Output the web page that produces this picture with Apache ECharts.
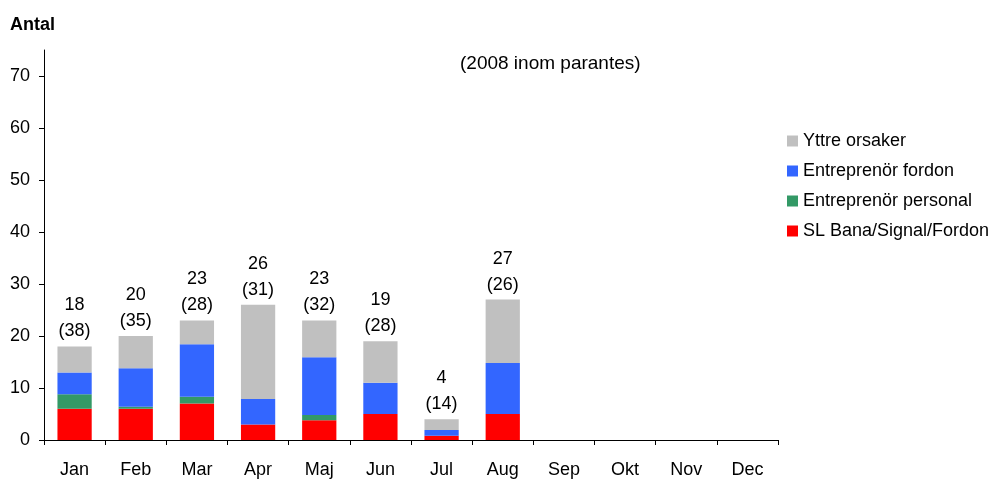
<!DOCTYPE html>
<html><head><meta charset="utf-8">
<script src="https://cdn.jsdelivr.net/npm/echarts@6/dist/echarts.min.js"></script>
<style>html,body{margin:0;padding:0;background:#fff}#c{width:1007px;height:479px}</style>
</head><body><div id="c"></div>
<script>
const months = ['Jan','Feb','Mar','Apr','Maj','Jun','Jul','Aug','Sep','Okt','Nov','Dec'];
const slBana = [6, 6, 7, 3, 3.8, 5, 0.8, 5, null, null, null, null];
const entPersonal = [2.8, 0.4, 1.3, 0, 1, 0, 0, 0, null, null, null, null];
const entFordon = [4.2, 7.4, 10.1, 4.9, 11.1, 6, 1.1, 9.8, null, null, null, null];
const yttre = [5, 6.2, 4.6, 18.1, 7.1, 8, 2.1, 12.2, null, null, null, null];
const totals2009 = [18, 20, 23, 26, 23, 19, 4, 27];
const totals2008 = [38, 35, 28, 31, 32, 28, 14, 26];
const yTicks = [0, 10, 20, 30, 40, 50, 60, 70];

const font = 'Liberation Sans, Arial, sans-serif';
const fs = 18;
const chart = echarts.init(document.getElementById('c'));
const mk = (name, data, color) => ({
  name, type: 'bar', stack: 's', data, barWidth: '56%',
  itemStyle: { color }, emphasis: { disabled: true }
});
const topSeries = mk('Yttre orsaker', yttre, '#C0C0C0');
topSeries.label = {
  show: true, position: 'top', distance: 2,
  fontFamily: font, fontSize: fs, color: '#000', lineHeight: 26,
  formatter: p => p.dataIndex < totals2009.length ? totals2009[p.dataIndex] + '\n(' + totals2008[p.dataIndex] + ')' : ''
};
chart.setOption({
  animation: false,
  textStyle: { fontFamily: font },
  grid: { left: 44, right: 229, top: 50, bottom: 38, containLabel: false },
  title: [
    { text: 'Antal', left: 5, top: 11, textStyle: { fontFamily: font, fontSize: fs, fontWeight: 'bold', color: '#000' } },
    { text: '(2008 inom parantes)', left: 455, top: 49, textStyle: { fontFamily: font, fontSize: 19, fontWeight: 'normal', color: '#000' } }
  ],
  legend: {
    orient: 'vertical', left: 782, top: 127, itemGap: 12,
    itemWidth: 11, itemHeight: 11, icon: 'rect',
    data: ['Yttre orsaker', 'Entreprenör fordon', 'Entreprenör personal', 'SL Bana/Signal/Fordon'],
    textStyle: { fontFamily: font, fontSize: fs, color: '#000' }
  },
  xAxis: {
    type: 'category', data: months, boundaryGap: true,
    axisLine: { lineStyle: { color: '#000', width: 1 } },
    axisTick: { show: true, alignWithLabel: false, length: 5, lineStyle: { color: '#000' } },
    axisLabel: { fontFamily: font, fontSize: fs, color: '#000', margin: 21 }
  },
  yAxis: {
    type: 'value', min: 0, max: 75, interval: 10,
    splitLine: { show: false },
    axisLine: { show: true, lineStyle: { color: '#000', width: 1 } },
    axisTick: { show: true, length: 5, lineStyle: { color: '#000' }, customValues: yTicks },
    axisLabel: { fontFamily: font, fontSize: fs, color: '#000', margin: 14, customValues: yTicks }
  },
  series: [
    mk('SL Bana/Signal/Fordon', slBana, '#FF0000'),
    mk('Entreprenör personal', entPersonal, '#339966'),
    mk('Entreprenör fordon', entFordon, '#3366FF'),
    topSeries
  ]
});
</script></body></html>
